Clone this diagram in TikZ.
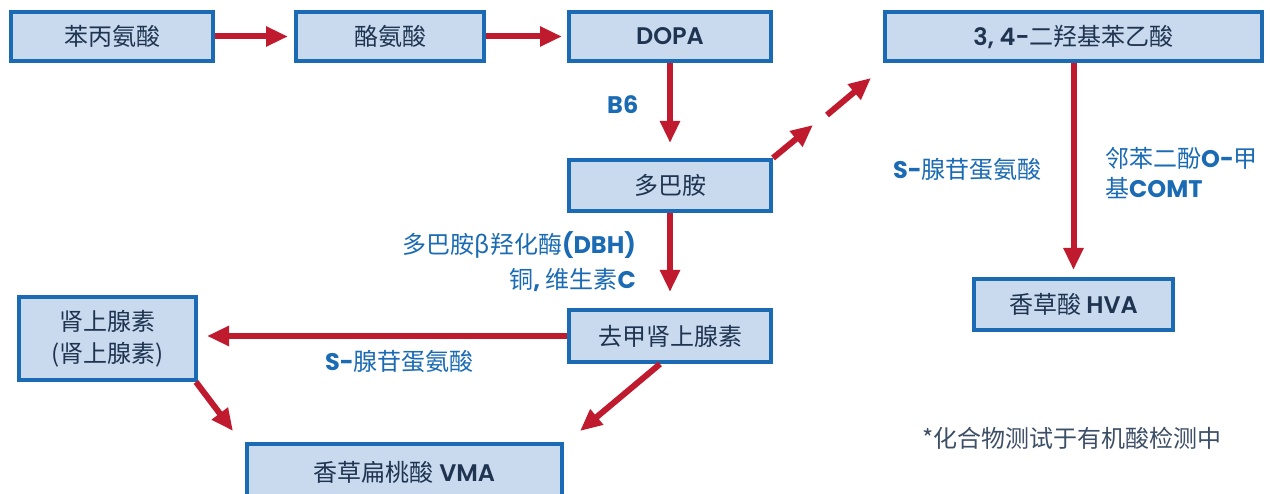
\documentclass[tikz,border=0pt]{standalone}
\usepackage{fontspec}
\usetikzlibrary{arrows.meta}
\setmainfont{Noto Sans CJK SC}
\newfontfamily\popm{Poppins SemiBold}
\newfontfamily\popb{Poppins}
\newcommand\latb[1]{{\popb\bfseries #1}}
\newcommand\latm[1]{{\popm #1}}
\definecolor{boxblue}{HTML}{1A6BB4}
\definecolor{boxfill}{HTML}{C9D9EE}
\definecolor{boxtext}{HTML}{1E3450}
\definecolor{arrowred}{HTML}{C01A2E}
\definecolor{lblblue}{HTML}{1A6BB4}
\definecolor{notegray}{HTML}{3D4F66}
\begin{document}
\begin{tikzpicture}[x=1pt,y=-1pt,
  stepbox/.style={draw=boxblue, line width=4pt, fill=boxfill, inner sep=0pt,
    text=boxtext, font=\fontsize{24}{32}\selectfont, align=center},
  flow/.style={draw=arrowred, line width=6pt, -{Triangle[length=22pt,width=19pt]}},
  lbl/.style={text=lblblue, font=\fontsize{24}{31}\selectfont, inner sep=0pt}]
\fill[white] (0,0) rectangle (1270,494);
\useasboundingbox (0,0) rectangle (1270,494);

% boxes
\node[stepbox, minimum width=202pt, minimum height=49pt] (n1) at (112,36.5) {苯丙氨酸};
\node[stepbox, minimum width=188pt, minimum height=49pt] (n2) at (390,36.5) {酪氨酸};
\node[stepbox, minimum width=202pt, minimum height=49pt] (n3) at (670,36.5) {\latm{DOPA}};
\node[stepbox, minimum width=377pt, minimum height=49pt] (n4) at (1073.5,36.5) {\latm{3, 4-}二羟基苯乙酸};
\node[stepbox, minimum width=202pt, minimum height=51pt] (n5) at (670,185.5) {多巴胺};
\node[stepbox, minimum width=202pt, minimum height=52pt] (n6) at (670,336) {去甲肾上腺素};
\node[stepbox, minimum width=199pt, minimum height=51pt] (n7) at (1073.5,304.5) {香草酸 \latm{HVA}};
\node[stepbox, minimum width=177pt, minimum height=83pt] (n8) at (107.5,338.5) {肾上腺素\\(肾上腺素)};
\node[stepbox, minimum width=315pt, minimum height=56pt] (n9) at (404.5,472) {香草扁桃酸 \latm{VMA}};

% free ends
\coordinate (d1) at (813,125);
\coordinate (d2) at (827,115);
\coordinate (d3) at (871,78);
\coordinate (v1) at (233,431);
\coordinate (v2) at (580,431);

% connectors
\draw[flow, shorten >=6pt] (n1.east) -- (n2.west);
\draw[flow, shorten >=5pt] (n2.east) -- (n3.west);
\draw[flow, shorten >=15pt] (n3.south) -- (n5.north);
\draw[flow] (n5.north east) -- (d1);
\draw[flow] (d2) -- (d3);
\draw[flow, shorten >=7pt] (n4.south) -- (n7.north);
\draw[flow, shorten >=16pt] (n5.south) -- (n6.north);
\draw[flow, shorten >=9pt] (n6.west) -- (n6.west -| n8.east);
\draw[flow] ([xshift=-2pt]n8.south east) -- (v1);
\draw[flow] ([xshift=-10pt]n6.south) -- (v2);

% labels
\node[lbl, anchor=west] (lb6) at (607,105) {\latb{B6}};
\node[lbl, anchor=east] (ldbh) at (636,245) {多巴胺β羟化酶\latb{(DBH)}};
\node[lbl, anchor=east] (lcu) at (636,280) {铜\latb{,} 维生素\latb{C}};
\node[lbl, anchor=west] (lsam1) at (893,170) {\latb{S-}腺苷蛋氨酸};
\node[lbl, anchor=west] (lcomt1) at (1105,158) {邻苯二酚\latb{O-}甲};
\node[lbl, anchor=west] (lcomt2) at (1105,188) {基\latb{COMT}};
\node[lbl, anchor=west] (lsam2) at (325,362) {\latb{S-}腺苷蛋氨酸};
\node[anchor=west, inner sep=0pt, text=notegray, font=\fontsize{24}{30}\selectfont] (note) at (922,438) {*化合物测试于有机酸检测中};
\end{tikzpicture}
\end{document}
